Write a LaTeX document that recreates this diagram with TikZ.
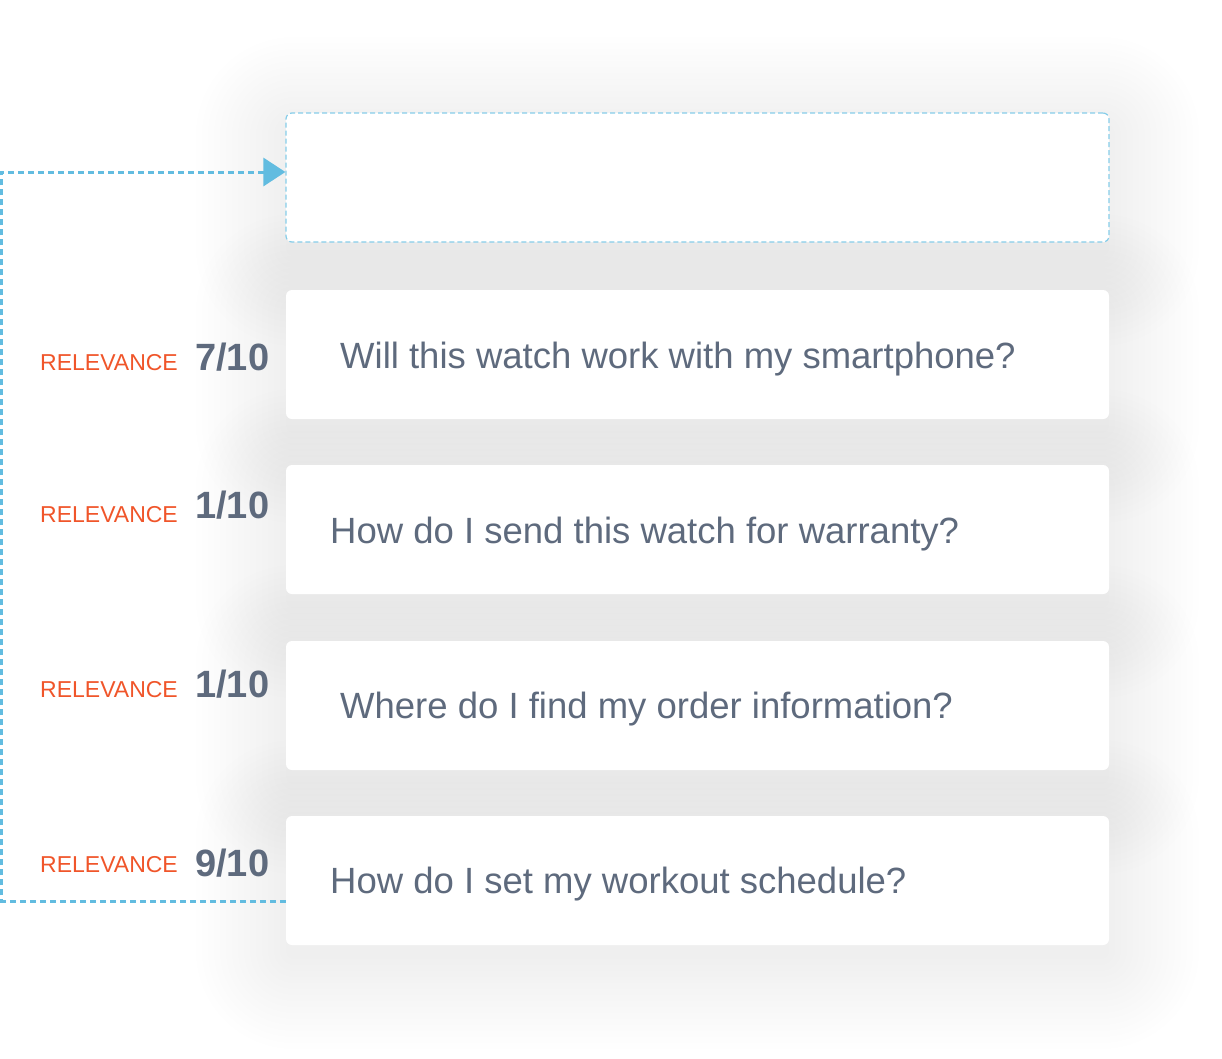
\documentclass[tikz,border=0pt]{standalone}
\usepackage{fontspec}
\setmainfont{Liberation Sans}
\usetikzlibrary{arrows.meta}
\definecolor{qtext}{HTML}{5E6A7D}
\definecolor{relorange}{HTML}{F0552A}
\definecolor{connblue}{HTML}{62BCE0}
\definecolor{boxdash}{HTML}{86CDE9}
\definecolor{shadowc}{HTML}{7A8298}
\newcommand{\softshadow}[4]{%
  \foreach \r in {0,6,...,90}{%
    \pgfmathsetmacro{\rc}{\r+8}%
    \fill[shadowc, opacity=0.0048, rounded corners=\rc pt]
      (#1-\r, #2-\r+14) rectangle (#3+\r, #4+\r+14);
  }%
}
\tikzset{
  card/.style={fill=white, rounded corners=6pt, minimum width=823pt, minimum height=129pt, inner sep=0pt},
  targetcard/.style={card, draw=boxdash, line width=1.2pt, dash pattern=on 5pt off 3pt},
  question/.style={anchor=base west, text=qtext, font=\fontsize{36.5}{40}\selectfont, inner sep=0pt},
  rel/.style={anchor=base west, text=relorange, font=\fontsize{23}{26}\selectfont, inner sep=0pt},
  score/.style={anchor=base west, text=qtext, font=\bfseries\fontsize{38}{40}\selectfont, inner sep=0pt},
  conn/.style={draw=connblue, line width=3pt, dash pattern=on 6pt off 4pt}
}
\begin{document}
\begin{tikzpicture}[x=1pt,y=-1pt]
\useasboundingbox (0,0) rectangle (1222,1058);
\fill[white] (0,0) rectangle (1222,1058);
% shadows
\softshadow{286}{113}{1109}{242}
\softshadow{286}{290}{1109}{419}
\softshadow{286}{465}{1109}{594}
\softshadow{286}{641}{1109}{770}
\softshadow{286}{816}{1109}{945}
% cards
\node[targetcard] (b0) at (697.5,177.5) {};
\node[card] (b1) at (697.5,354.5) {};
\node[card] (b2) at (697.5,529.5) {};
\node[card] (b3) at (697.5,705.5) {};
\node[card] (b4) at (697.5,880.5) {};
% questions
\node[question] (q1) at (340,368) {Will this watch work with my smartphone?};
\node[question] (q2) at (330,543) {How do I send this watch for warranty?};
\node[question] (q3) at (340,718) {Where do I find my order information?};
\node[question] (q4) at (330,893) {How do I set my workout schedule?};
% relevance labels
\node[rel] (r1) at (40,370) {RELEVANCE};
\node[rel] (r2) at (40,522) {RELEVANCE};
\node[rel] (r3) at (40,697) {RELEVANCE};
\node[rel] (r4) at (40,872) {RELEVANCE};
\node[score] (s1) at (195,370) {7/10};
\node[score] (s2) at (195,518) {1/10};
\node[score] (s3) at (195,697) {1/10};
\node[score] (s4) at (195,876) {9/10};
% connector
\coordinate (lb) at (1.5,901);
\coordinate (lt) at (1.5,172);
\draw[conn, -{Triangle[length=22pt,width=28pt]}] ([yshift=-20.5pt]b4.west) -- (lb) -- (lt) -- ([yshift=5.5pt]b0.west);
\end{tikzpicture}
\end{document}
